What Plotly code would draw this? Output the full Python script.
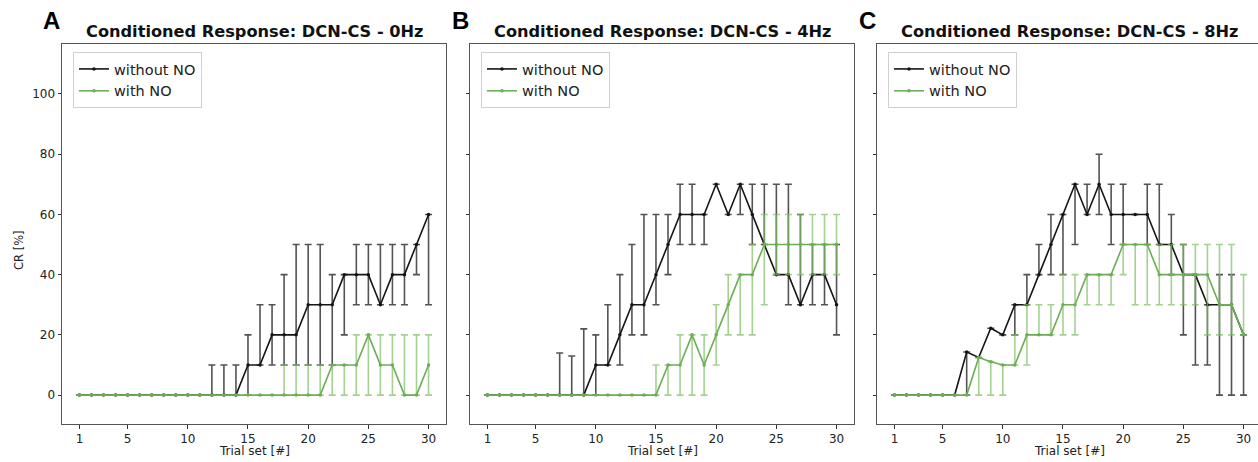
import numpy as np
import plotly.graph_objects as go

trials = list(range(1, 31))
x_ticks = [1, 5, 10, 15, 20, 25, 30]
y_ticks = [0, 20, 40, 60, 80, 100]
panel_letters = ["A", "B", "C"]
panel_titles = ["Conditioned Response: DCN-CS - 0Hz",
                "Conditioned Response: DCN-CS - 4Hz",
                "Conditioned Response: DCN-CS - 8Hz"]
series_names = ["without NO", "with NO"]

# ---- Panel A (0Hz) ----
a_without = [0]*11 + [0, 0, 0, 10, 10, 20, 20, 20, 30, 30, 30, 40, 40, 40, 30, 40, 40, 50, 60]
a_without_hi = [0]*11 + [10, 10, 10, 20, 30, 30, 40, 50, 50, 50, 40, 40, 50, 50, 50, 50, 50, 50, 60]
a_without_lo = [0]*11 + [0, 0, 0, 0, 10, 10, 10, 10, 10, 10, 10, 20, 30, 30, 30, 30, 30, 40, 30]
a_with = [0]*21 + [10, 10, 10, 20, 10, 10, 0, 0, 10]
a_with_hi = [0]*17 + [10, 10, 10, 10, 10, 10, 20, 20, 20, 20, 20, 20, 20]
a_with_lo = [0]*30

# ---- Panel B (4Hz) ----
b_without = [0]*9 + [10, 10, 20, 30, 30, 40, 50, 60, 60, 60, 70, 60, 70, 60, 50, 40, 40, 30, 40, 40, 30]
b_without_hi = [0]*6 + [14, 13, 22, 20, 30, 40, 50, 60, 60, 60, 70, 70, 60, 70, 60, 70, 70, 70, 70, 70, 60, 50, 50, 50]
b_without_lo = [0]*6 + [0, 0, 0, 0, 10, 10, 20, 20, 30, 40, 50, 50, 50, 70, 60, 60, 50, 50, 40, 30, 30, 30, 30, 20]
b_with = [0]*15 + [10, 10, 20, 10, 20, 30, 40, 40, 50, 50, 50, 50, 50, 50, 50]
b_with_hi = [0]*14 + [10, 10, 20, 20, 20, 30, 40, 40, 50, 60, 60, 60, 60, 60, 60, 60]
b_with_lo = [0]*14 + [0, 0, 0, 0, 0, 10, 20, 20, 20, 30, 40, 40, 40, 40, 40, 40]

# ---- Panel C (8Hz) ----
c_without = [0]*6 + [14.3, 12.5, 22.2, 20, 30, 30, 40, 50, 60, 70, 60, 70, 60, 60, 60, 60, 50, 50, 40, 40, 30, 30, 30, 20]
c_without_hi = [0]*6 + [14.3, 12.5, 22.2, 20, 30, 40, 50, 60, 60, 70, 70, 80, 70, 70, 60, 70, 70, 60, 50, 40, 30, 40, 40, 20]
c_without_lo = [0]*6 + [0, 12.5, 22.2, 20, 20, 30, 40, 40, 40, 50, 60, 60, 50, 50, 60, 50, 50, 40, 20, 10, 10, 0, 0, 0]
c_with = [0]*7 + [12.5, 11.1, 10, 10, 20, 20, 20, 30, 30, 40, 40, 40, 50, 50, 50, 40, 40, 40, 40, 40, 30, 30, 20]
c_with_hi = [0]*7 + [12.5, 11.1, 10, 20, 30, 30, 30, 40, 40, 40, 40, 40, 50, 50, 50, 50, 50, 50, 50, 50, 50, 50, 40]
c_with_lo = [0]*7 + [0, 0, 0, 10, 10, 20, 20, 20, 20, 30, 30, 30, 40, 30, 30, 30, 30, 30, 30, 20, 20, 20, 20]

panels = [
    (a_without, a_without_hi, a_without_lo, a_with, a_with_hi, a_with_lo),
    (b_without, b_without_hi, b_without_lo, b_with, b_with_hi, b_with_lo),
    (c_without, c_without_hi, c_without_lo, c_with, c_with_hi, c_with_lo),
]

W, H = 1258, 462
# plot frames in pixels (panel C is cut by the right edge of the picture)
frames_px = [(62, 446), (470, 854), (877, 1258)]
px_per_unit = 384 / 31.9
top_px, bot_px = 44, 424

BLACK = "#151515"
BLACK_ERR = "rgba(35,35,35,0.78)"
GREEN = "#6cae55"
GREEN_ERR = "rgba(125,190,100,0.7)"

fig = go.Figure()
for i, (wo, wo_hi, wo_lo, wi, wi_hi, wi_lo) in enumerate(panels):
    xa = "x" if i == 0 else f"x{i+1}"
    ya = "y" if i == 0 else f"y{i+1}"
    lg = "legend" if i == 0 else f"legend{i+1}"
    for name, y, hi, lo, col, ecol in [
        (series_names[0], wo, wo_hi, wo_lo, BLACK, BLACK_ERR),
        (series_names[1], wi, wi_hi, wi_lo, GREEN, GREEN_ERR),
    ]:
        y = np.array(y, dtype=float)
        plus = np.clip(np.array(hi, dtype=float) - y, 0, None)
        minus = np.clip(y - np.array(lo, dtype=float), 0, None)
        fig.add_trace(go.Scatter(
            x=trials, y=y, name=name, mode="lines+markers",
            line=dict(color=col, width=1.6),
            marker=dict(color=col, size=3.5),
            error_y=dict(type="data", symmetric=False, array=plus, arrayminus=minus,
                         color=ecol, thickness=1.6, width=3.5),
            xaxis=xa, yaxis=ya, legend=lg,
        ))

layout = dict(
    width=W, height=H, margin=dict(l=0, r=0, t=0, b=0),
    paper_bgcolor="white", plot_bgcolor="white",
    font=dict(family="DejaVu Sans", size=12, color="#222"),
    showlegend=True,
)
ydom = [(H - bot_px) / H, (H - top_px) / H]
annotations = []
for i, (l, r) in enumerate(frames_px):
    sfx = "" if i == 0 else str(i + 1)
    xmax = -0.45 + (r - l) / px_per_unit
    layout["xaxis" + sfx] = dict(
        domain=[l / W, r / W], range=[-0.45, xmax],
        anchor="y" + sfx, tickvals=x_ticks, ticks="outside", ticklen=3.5, tickwidth=1,
        tickcolor="#333", showline=True, linecolor="#555", linewidth=1, mirror=True,
        showgrid=False, zeroline=False, tickfont=dict(size=12, color="#222"),
    )
    layout["yaxis" + sfx] = dict(
        domain=ydom, range=[-9.6, 116.6], anchor="x" + sfx, tickvals=y_ticks,
        ticks="outside", ticklen=3.5, tickwidth=1, tickcolor="#333",
        showticklabels=(i == 0), showline=True, linecolor="#555", linewidth=1,
        mirror=True, showgrid=False, zeroline=False, tickfont=dict(size=12, color="#222"),
    )
    lgname = "legend" if i == 0 else f"legend{i+1}"
    layout[lgname] = dict(
        x=(l + 11) / W, y=(H - 52) / H, xanchor="left", yanchor="top",
        bgcolor="rgba(255,255,255,0.85)", bordercolor="#d0d0d0", borderwidth=1,
        font=dict(family="DejaVu Sans", size=14.5, color="#222"),
        tracegroupgap=0, itemwidth=30,
    )
    cx = (l + l + 384) / 2
    annotations.append(dict(x=cx / W, y=(H - 31) / H, xref="paper", yref="paper",
                            text=f"<b>{panel_titles[i]}</b>", showarrow=False,
                            font=dict(family="DejaVu Sans", size=16.2, color="#111"),
                            xanchor="center", yanchor="middle"))
    annotations.append(dict(x=(l - 10) / W, y=(H - 21) / H, xref="paper", yref="paper",
                            text=f"<b>{panel_letters[i]}</b>", showarrow=False,
                            font=dict(family="Liberation Sans", size=24, color="#000"),
                            xanchor="center", yanchor="middle"))
    annotations.append(dict(x=cx / W, y=(H - 451) / H, xref="paper", yref="paper",
                            text="Trial set [#]", showarrow=False,
                            font=dict(family="DejaVu Sans", size=12, color="#222"),
                            xanchor="center", yanchor="middle"))
annotations.append(dict(x=19 / W, y=(H - 250) / H, xref="paper", yref="paper",
                        text="CR [%]", showarrow=False, textangle=-90,
                        font=dict(family="DejaVu Sans", size=11.5, color="#222"),
                        xanchor="center", yanchor="middle"))
layout["annotations"] = annotations
fig.update_layout(**layout)
fig.write_html("out.html", config={"displayModeBar": False},
               post_script="document.body.style.margin='0';document.body.style.overflow='hidden';")
